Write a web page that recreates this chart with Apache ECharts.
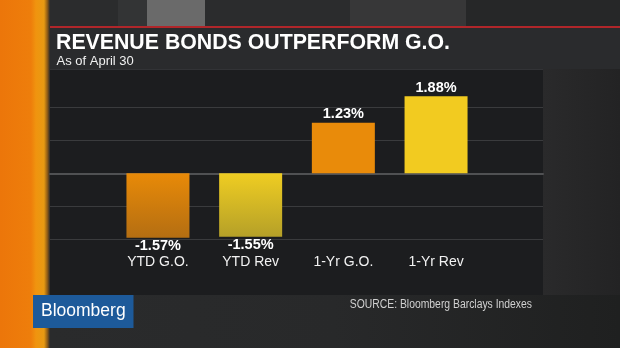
<!DOCTYPE html>
<html><head><meta charset="utf-8">
<script src="https://cdn.jsdelivr.net/npm/echarts@6/dist/echarts.min.js"></script>
<style>html,body{margin:0;padding:0;background:#1f2022;overflow:hidden}#c{width:620px;height:348px}</style>
</head><body><div id="c"></div>
<script>
// ---- data ----
const categories = ['YTD G.O.', 'YTD Rev', '1-Yr G.O.', '1-Yr Rev'];
const values = [-1.57, -1.55, 1.23, 1.88];
const barKinds = ['go', 'rev', 'go', 'rev'];
const titleText = 'REVENUE BONDS OUTPERFORM G.O.';
const subtitleText = 'As of April 30';
const sourceText = 'SOURCE: Bloomberg Barclays Indexes';
const logoText = 'Bloomberg';
const yMin = -1.6, yMax = 2.4, yInterval = 0.8;

// ---- styles ----
const FONT = 'Liberation Sans, Arial, Helvetica, sans-serif';
function barColor(kind, v) {
  if (v >= 0) return kind === 'go' ? '#E98B0A' : '#F2CB20';
  return kind === 'go'
    ? new echarts.graphic.LinearGradient(0, 0, 0, 1, [{offset: 0, color: '#E88A08'}, {offset: 1, color: '#B46E12'}])
    : new echarts.graphic.LinearGradient(0, 0, 0, 1, [{offset: 0, color: '#EFCD22'}, {offset: 1, color: '#B5A028'}]);
}

const chart = echarts.init(document.getElementById('c'), null, {renderer: 'canvas'});

const bg = [
  {type: 'rect', shape: {x: 0, y: 0, width: 620, height: 348}, style: {fill: '#222325'}, z: -100},
  // top band
  {type: 'rect', shape: {x: 50, y: 0, width: 570, height: 27}, style: {fill: '#2b2c2d'}, z: -99},
  {type: 'rect', shape: {x: 147, y: 0, width: 58, height: 27}, style: {fill: '#6a6a6a'}, z: -98},
  {type: 'rect', shape: {x: 118, y: 0, width: 29, height: 27}, style: {fill: '#333435'}, z: -98},
  {type: 'rect', shape: {x: 350, y: 0, width: 116, height: 27}, style: {fill: '#373738'}, z: -98},
  {type: 'rect', shape: {x: 466, y: 0, width: 154, height: 27}, style: {fill: '#262728'}, z: -98},
  // title box
  {type: 'rect', shape: {x: 50, y: 28, width: 570, height: 41}, style: {fill: '#2a2b2d'}, z: -97},
  // red line
  {type: 'rect', shape: {x: 50, y: 26, width: 570, height: 2}, style: {fill: '#b0262a'}, z: -96},
  // right side
  {type: 'rect', shape: {x: 543, y: 69, width: 77, height: 226}, style: {fill: new echarts.graphic.LinearGradient(0, 0, 1, 0, [{offset: 0, color: '#2a2a2b'}, {offset: 1, color: '#232324'}])}, z: -97},
  // chart panel
  {type: 'rect', shape: {x: 50, y: 69, width: 493, height: 226}, style: {fill: '#1c1d1f'}, z: -96},
  {type: 'rect', shape: {x: 50, y: 69, width: 493, height: 1}, style: {fill: '#323336'}, z: -95},
  // bottom band
  {type: 'rect', shape: {x: 50, y: 295, width: 570, height: 53}, style: {fill: new echarts.graphic.LinearGradient(0, 0, 1, 0, [{offset: 0, color: '#2a2b2c'}, {offset: 0.5, color: '#28292a'}, {offset: 1, color: '#1f2020'}])}, z: -96},
  // left orange strip
  {type: 'rect', shape: {x: 0, y: 0, width: 50, height: 348}, style: {fill: new echarts.graphic.LinearGradient(0, 0, 1, 0, [
    {offset: 0, color: '#EC760A'}, {offset: 0.62, color: '#EE7E0B'}, {offset: 0.72, color: '#F0940F'}, {offset: 0.88, color: '#E89A12'}, {offset: 0.95, color: '#8a5a18'}, {offset: 1, color: '#2a2a2a'}])}, z: -95},
  // Bloomberg logo box
  {type: 'rect', shape: {x: 33, y: 295, width: 100.5, height: 33}, style: {fill: '#1d5a9a'}, z: -90},
  {type: 'text', x: 41, y: 311.5, style: {text: logoText, fill: '#ffffff', font: '17.5px ' + FONT, textVerticalAlign: 'middle'}, z: 50},
  // titles
  {type: 'text', x: 56, y: 33, style: {text: titleText, fill: '#ffffff', font: 'bold 21.3px ' + FONT}, z: 50},
  {type: 'text', x: 56.5, y: 55, style: {text: subtitleText, fill: '#f0f0f0', font: '13px ' + FONT}, z: 50},
  {type: 'text', x: 532, y: 304.5, scaleX: 0.83, style: {text: sourceText, fill: '#d0d0d0', font: '12.5px ' + FONT, textAlign: 'right', textVerticalAlign: 'middle'}, z: 50}
];

chart.setOption({
  animation: false,
  backgroundColor: 'transparent',
  graphic: {elements: bg},
  grid: [
    {left: 111.6, right: 137.6, top: 74.9, bottom: 109.1, containLabel: false},
    {left: 50, right: 77, top: 74.9, bottom: 109.1, containLabel: false}
  ],
  xAxis: [{
    gridIndex: 0, type: 'category', data: categories,
    axisLine: {show: false}, axisTick: {show: false}, splitLine: {show: false},
    axisLabel: {color: '#f2f2f2', fontSize: 14, fontFamily: FONT, margin: 16}
  }, {
    gridIndex: 1, type: 'value', min: 0, max: 1,
    axisLine: {show: true, onZero: true, lineStyle: {color: '#505153', width: 2}},
    axisTick: {show: false}, axisLabel: {show: false}, splitLine: {show: false}
  }],
  yAxis: [{
    gridIndex: 0, type: 'value', min: yMin, max: yMax, interval: yInterval,
    axisLine: {show: false}, axisTick: {show: false}, axisLabel: {show: false}, splitLine: {show: false}
  }, {
    gridIndex: 1, type: 'value', min: yMin, max: yMax, interval: yInterval,
    axisLine: {show: false}, axisTick: {show: false}, axisLabel: {show: false},
    splitLine: {show: true, showMaxLine: false, lineStyle: {color: '#3a3b3d', width: 1}}
  }],
  series: [{
    type: 'bar', xAxisIndex: 0, yAxisIndex: 0, barWidth: 63,
    data: values.map((v, i) => ({value: v, itemStyle: {color: barColor(barKinds[i], v)}})),
    label: {show: true, position: 'outside', distance: 1, color: '#ffffff', fontWeight: 'bold', fontSize: 14.5, fontFamily: FONT,
      formatter: p => p.value.toFixed(2) + '%'}
  }]
});
</script></body></html>
